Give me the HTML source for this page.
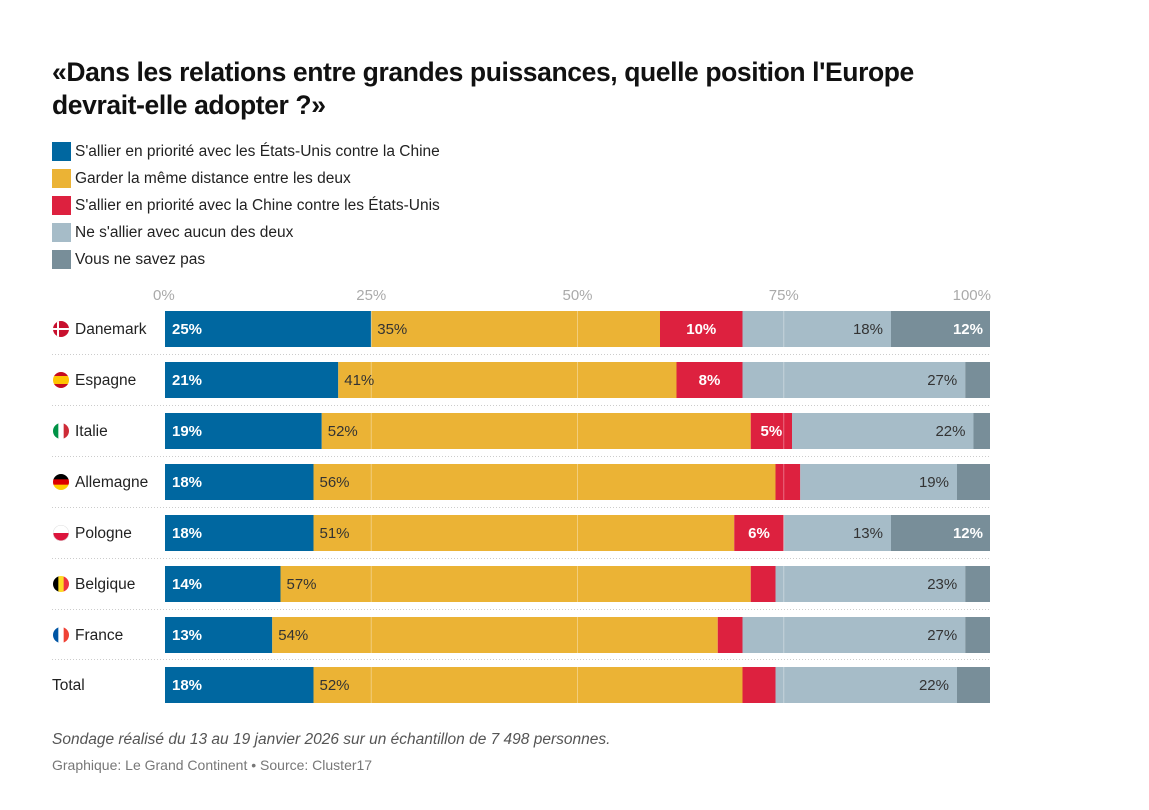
<!DOCTYPE html>
<html><head><meta charset="utf-8">
<style>
body{margin:0;background:#fff;font-family:"Liberation Sans",Arial,sans-serif;}
#wrap{position:relative;width:1149px;height:810px;overflow:hidden;}
h1{position:absolute;left:52px;top:56px;margin:0;font-size:26.5px;line-height:33px;font-weight:bold;color:#111;width:940px;letter-spacing:-0.4px}
.leg{position:absolute;left:52px;font-size:15.5px;color:#222;height:19px;line-height:19px}
.leg span.sw{display:inline-block;width:19px;height:19px;vertical-align:top;margin-right:4px}
.note{position:absolute;left:52px;font-size:15px;color:#555}
</style></head><body>
<div id="wrap">
<h1>«Dans les relations entre grandes puissances, quelle position l'Europe devrait-elle adopter ?»</h1>
<div class="leg" style="top:142px"><span class="sw" style="background:#0067a0"></span>S'allier en priorité avec les États-Unis contre la Chine</div>
<div class="leg" style="top:169px"><span class="sw" style="background:#ebb335"></span>Garder la même distance entre les deux</div>
<div class="leg" style="top:196px"><span class="sw" style="background:#dd213f"></span>S'allier en priorité avec la Chine contre les États-Unis</div>
<div class="leg" style="top:223px"><span class="sw" style="background:#a6bcc8"></span>Ne s'allier avec aucun des deux</div>
<div class="leg" style="top:250px"><span class="sw" style="background:#788e99"></span>Vous ne savez pas</div>
<svg id="chart" width="1149" height="810" style="position:absolute;left:0;top:0"></svg>
<div class="note" style="top:731px;font-style:italic;font-size:15.5px">Sondage réalisé du 13 au 19 janvier 2026 sur un échantillon de 7 498 personnes.</div>
<div class="note" style="top:757px;font-size:14px;color:#777">Graphique: Le Grand Continent • Source: Cluster17</div>
</div>
<script>
const categories=["Danemark","Espagne","Italie","Allemagne","Pologne","Belgique","France","Total"];
const usa=[25,21,19,18,18,14,13,18];
const distance=[35,41,52,56,51,57,54,52];
const china=[10,8,5,3,6,3,3,4];
const none=[18,27,22,19,13,23,27,22];
const dontknow=[12,3,2,4,12,3,3,4];
const ticks=[0,25,50,75,100];
const series=[usa,distance,china,none,dontknow];
const colors=["#0067a0","#ebb335","#dd213f","#a6bcc8","#788e99"];
const names=["usa","distance","china","none","dontknow"];
const ns="http://www.w3.org/2000/svg";
const svg=document.getElementById("chart");
const x0=165,x1=990;
const xs=v=>x0+(x1-x0)*v/100;
const rowY=i=>311+i*51-(i==7?1:0);
const bh=36;
function mk(t,a){const e=document.createElementNS(ns,t);for(const k in a)e.setAttribute(k,a[k]);svg.appendChild(e);return e;}
ticks.forEach(t=>{
 const e=mk("text",{x:xs(t),y:300,"text-anchor":t==0?"start":(t==100?"end":"middle"),"font-size":"15",fill:"#aaa"});
 e.textContent=t+"%";
 if(t==0)e.setAttribute("x",xs(t)-12);
 if(t==100)e.setAttribute("x",xs(t)+1);
 
 
});
const flags={
 Danemark:[["#c8102e","#c8102e"],"dk"],Espagne:[["#c60b1e","#ffc400","#c60b1e"],"h"],Italie:[["#009246","#fff","#ce2b37"],"v"],
 Allemagne:[["#000","#dd0000","#ffce00"],"h"],Pologne:[["#fff","#dc143c"],"h"],Belgique:[["#000","#fdda24","#ef3340"],"v"],France:[["#0055a4","#fff","#ef4135"],"v"]};
categories.forEach((c,i)=>{
 const y=rowY(i);
 if(i>0){const l=mk("line",{x1:52,x2:x1,y1:y-7.5,y2:y-7.5,stroke:"#ccc","stroke-dasharray":"1,2"});
 }
 const lab=mk("text",{x:c=="Total"?52:75,y:y+23,"font-size":"15.5",fill:"#222"});lab.textContent=c;
 
 if(flags[c]){
  const cx=61,cy=y+18,r=8;const f=flags[c];
  const cid="cp"+i;const d=mk("clipPath",{id:cid});const cc=document.createElementNS(ns,"circle");cc.setAttribute("cx",cx);cc.setAttribute("cy",cy);cc.setAttribute("r",r);d.appendChild(cc);
  const g=mk("g",{"clip-path":"url(#"+cid+")"});
  
  const add=(t,a)=>{const e=document.createElementNS(ns,t);for(const k in a)e.setAttribute(k,a[k]);g.appendChild(e);};
  if(f[1]=="dk"){add("rect",{x:cx-r,y:cy-r,width:2*r,height:2*r,fill:"#c8102e"});add("rect",{x:cx-4,y:cy-r,width:2,height:2*r,fill:"#fff"});add("rect",{x:cx-r,y:cy-1,width:2*r,height:2,fill:"#fff"});}
  else{const n=f[0].length;let ws=n==3&&c=="Espagne"?[0.25,0.5,0.25]:f[0].map(()=>1/n);let acc=0;
   f[0].forEach((col,k)=>{if(f[1]=="h")add("rect",{x:cx-r,y:cy-r+acc*2*r,width:2*r,height:ws[k]*2*r+0.5,fill:col});else add("rect",{x:cx-r+acc*2*r,y:cy-r,width:ws[k]*2*r+0.5,height:2*r,fill:col});acc+=ws[k];});}
  if(c=="Pologne")add("circle",{cx:cx,cy:cy,r:r,fill:"none",stroke:"#ddd","stroke-width":1});
 }
 let acc=0;
 series.forEach((s,k)=>{
  const v=s[i];const xa=xs(acc),xb=xs(acc+v);
  const r=mk("rect",{x:xa,y:y,width:xb-xa,height:bh,fill:colors[k]});
  
  acc+=v;
 });
 ticks.slice(1,4).forEach(t=>{const l=mk("line",{x1:xs(t),x2:xs(t),y1:y,y2:y+bh,stroke:"#fff","stroke-opacity":"0.35"});});
 acc=0;
 series.forEach((s,k)=>{
  const v=s[i];const xa=xs(acc),xb=xs(acc+v);acc+=v;
  if(v<5)return;
  let a={y:y+23,"font-size":"15"};
  if(k==0){a.x=xa+7;a.fill="#fff";a["font-weight"]="bold";}
  else if(k==1){a.x=xa+6;a.fill="#333";}
  else if(k==2){a.x=(xa+xb)/2;a["text-anchor"]="middle";a.fill="#fff";a["font-weight"]="bold";}
  else if(k==3){a.x=xb-8;a["text-anchor"]="end";a.fill="#333";}
  else{a.x=xb-7;a["text-anchor"]="end";a.fill="#fff";a["font-weight"]="bold";}
  const t=mk("text",a);t.textContent=v+"%";
  
 });
});
</script>
</body></html>
